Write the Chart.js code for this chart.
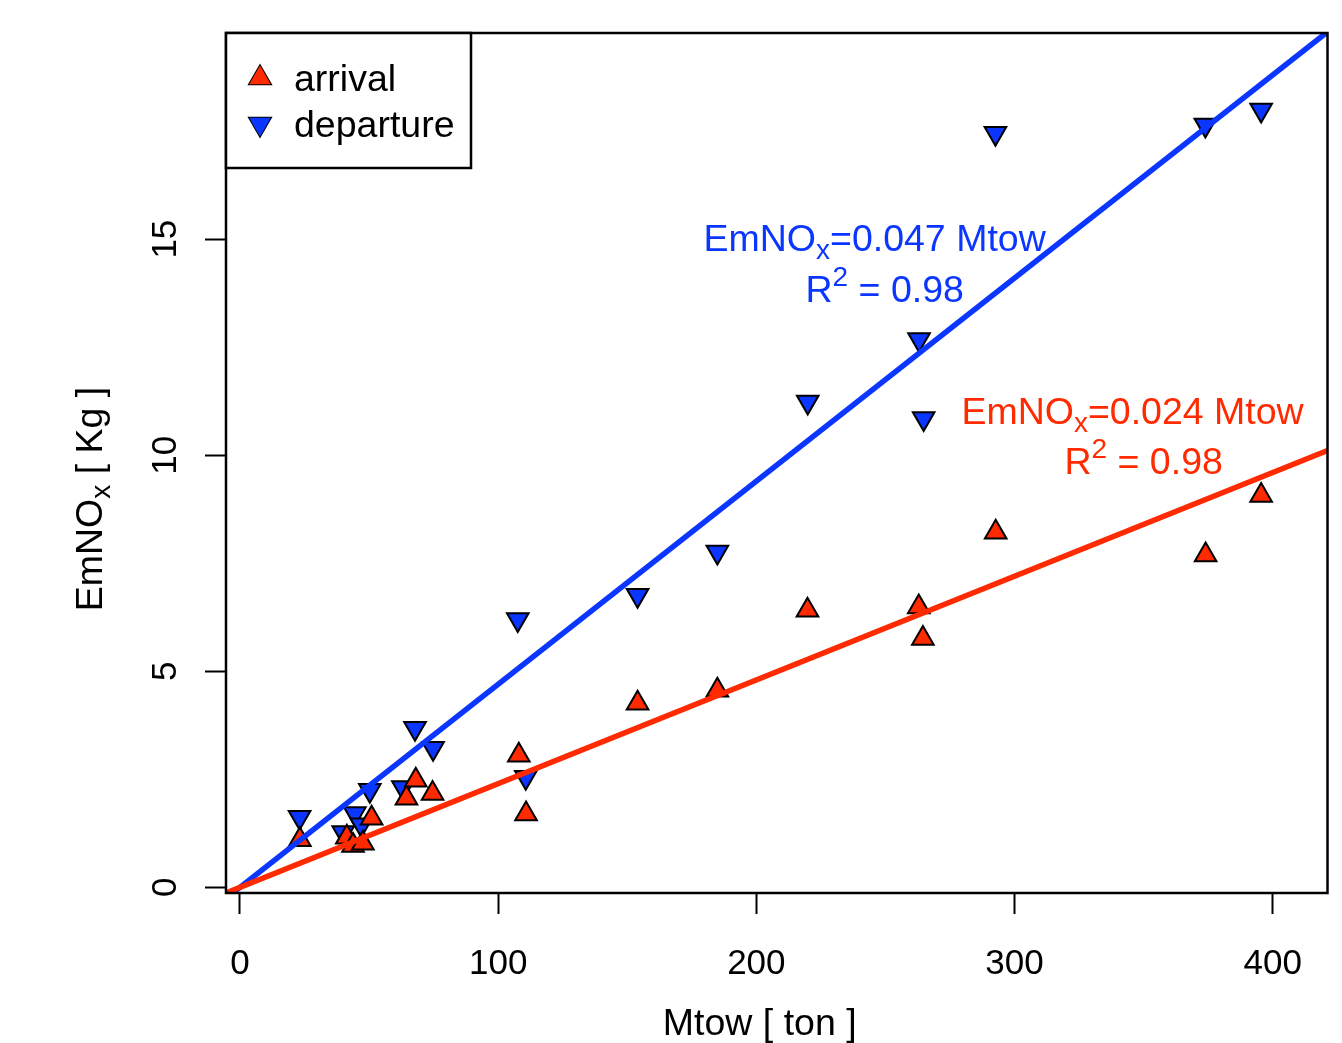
<!DOCTYPE html>
<html>
<head>
<meta charset="utf-8">
<title>EmNOx vs Mtow</title>
<script src="https://cdn.jsdelivr.net/npm/chart.js@4.4.1/dist/chart.umd.min.js"></script>
<style>
  html, body { margin: 0; padding: 0; background: #ffffff; }
  canvas { display: block; }
</style>
</head>
<body>
<canvas id="chart" width="1342" height="1043"></canvas>
<script>
// Maximum take-off weight [ton] and NOx emission [kg] per aircraft type
const mtowArrival = [23.2, 41.4, 43.8, 47.6, 51.0, 64.5, 68.1, 74.6, 108.0, 110.8, 154.0, 184.9, 219.8, 262.9, 264.5, 292.7, 374.0, 395.5];
const emArrival   = [1.10, 1.16, 0.97, 1.02, 1.60, 2.06, 2.48, 2.17, 3.06, 1.70, 4.26, 4.56, 6.41, 6.49, 5.76, 8.22, 7.69, 9.07];

const mtowDeparture = [23.1, 40.0, 44.5, 47.0, 50.3, 63.1, 67.8, 74.8, 107.6, 110.7, 154.0, 184.9, 219.9, 263.0, 264.8, 292.6, 373.9, 395.5];
const emDeparture   = [1.62, 1.27, 1.71, 1.45, 2.25, 2.31, 3.68, 3.22, 6.20, 2.55, 6.76, 7.76, 11.23, 12.68, 10.85, 17.45, 17.64, 17.99];

// Regression through the origin: EmNOx = slope * Mtow
const seriesNames = ['arrival', 'departure'];
const fitSlopes   = [0.024, 0.047];
const fitR2       = [0.98, 0.98];

// Axis ticks and limits
const xTicks = [0, 100, 200, 300, 400];
const yTicks = [0, 5, 10, 15];
const xLimits = [-5.4, 421.2];
const yLimits = [-0.13, 19.77];

const RED = '#ff2a00';
const BLUE = '#0a36ff';
const FONT = "'Liberation Sans', Arial, Helvetica, sans-serif";
const LAB = 37.5;   // label / legend / annotation text size
const SUB = 28;     // sub- and superscript size

function toPoints(xs, ys) { return xs.map((x, i) => ({ x: x, y: ys[i] })); }
function fitLine(slope) { return xLimits.map(x => ({ x: x, y: slope * x })); }

// Draw a run of text pieces (for sub/superscripts) centred on x
function drawRich(ctx, pieces, x, y) {
  let total = 0;
  pieces.forEach(p => { ctx.font = p.size + 'px ' + FONT; p.w = ctx.measureText(p.t).width; total += p.w; });
  let cx = x - total / 2;
  ctx.textAlign = 'left';
  ctx.textBaseline = 'alphabetic';
  pieces.forEach(p => {
    ctx.font = p.size + 'px ' + FONT;
    ctx.fillText(p.t, cx, y + (p.dy || 0));
    cx += p.w;
  });
}

function equationPieces(slope) {
  return [
    { t: 'EmNO', size: LAB },
    { t: 'x', size: SUB, dy: 8 },
    { t: '=' + slope.toFixed(3) + ' Mtow', size: LAB }
  ];
}
function r2Pieces(r2) {
  return [
    { t: 'R', size: LAB },
    { t: '2', size: SUB, dy: -16 },
    { t: ' = ' + r2.toFixed(2), size: LAB }
  ];
}

const pointStyles = [
  { pointStyle: 'triangle', rotation: 0, backgroundColor: RED },
  { pointStyle: 'triangle', rotation: 180, backgroundColor: BLUE }
];

const decorations = {
  id: 'decorations',
  afterDraw(chart) {
    const ctx = chart.ctx;
    const a = chart.chartArea;
    const xs = chart.scales.x, ys = chart.scales.y;
    ctx.save();

    // plot frame
    ctx.strokeStyle = '#000';
    ctx.lineWidth = 2.5;
    ctx.strokeRect(a.left, a.top, a.right - a.left, a.bottom - a.top);

    // y tick labels, rotated as in base graphics
    ctx.fillStyle = '#000';
    ctx.font = '35px ' + FONT;
    ys.ticks.forEach(t => {
      const py = ys.getPixelForValue(t.value);
      ctx.save();
      ctx.translate(a.left - 50, py);
      ctx.rotate(-Math.PI / 2);
      ctx.textAlign = 'center';
      ctx.textBaseline = 'alphabetic';
      ctx.fillText(String(t.value), 0, 0);
      ctx.restore();
    });

    // y axis title
    ctx.save();
    ctx.translate(a.left - 124, (a.top + a.bottom) / 2 + 36);
    ctx.rotate(-Math.PI / 2);
    drawRich(ctx, [
      { t: 'EmNO', size: LAB },
      { t: 'x', size: SUB, dy: 8 },
      { t: ' [ Kg ]', size: LAB }
    ], 0, 0);
    ctx.restore();

    // x axis title
    ctx.fillStyle = '#000';
    drawRich(ctx, [{ t: 'Mtow [ ton ]', size: LAB }], (a.left + a.right) / 2 - 17, 1035);

    // regression equations
    const eqAnchors = [
      { x: 345.7, y: 10.72, x2: 350.0, y2: 9.56, color: RED },
      { x: 245.8, y: 14.72, x2: 249.7, y2: 13.54, color: BLUE }
    ];
    eqAnchors.forEach((e, i) => {
      ctx.fillStyle = e.color;
      drawRich(ctx, equationPieces(fitSlopes[i]), xs.getPixelForValue(e.x), ys.getPixelForValue(e.y));
      drawRich(ctx, r2Pieces(fitR2[i]), xs.getPixelForValue(e.x2), ys.getPixelForValue(e.y2));
    });

    // legend
    const lx = a.left, ly = a.top, lw = 245, lh = 135;
    ctx.fillStyle = '#fff';
    ctx.fillRect(lx, ly, lw, lh);
    ctx.strokeStyle = '#000';
    ctx.lineWidth = 2.5;
    ctx.strokeRect(lx, ly, lw, lh);
    seriesNames.forEach((name, i) => {
      const cy = ly + 45 + i * 46;
      const st = pointStyles[i];
      ctx.fillStyle = st.backgroundColor;
      ctx.strokeStyle = '#000';
      ctx.lineWidth = 2;
      Chart.helpers.drawPoint(ctx, {
        pointStyle: st.pointStyle, rotation: st.rotation, radius: 12.5, borderWidth: 2
      }, lx + 34, cy);
      ctx.fill();
      ctx.fillStyle = '#000';
      ctx.font = LAB + 'px ' + FONT;
      ctx.textAlign = 'left';
      ctx.textBaseline = 'alphabetic';
      ctx.fillText(name, lx + 68, cy + 13);
    });

    ctx.restore();
  }
};

new Chart(document.getElementById('chart'), {
  type: 'scatter',
  data: {
    datasets: [
      {
        label: seriesNames[0] + ' fit',
        type: 'line',
        data: fitLine(fitSlopes[0]),
        borderColor: RED,
        borderWidth: 5.5,
        pointRadius: 0,
        fill: false,
        order: 0
      },
      {
        label: seriesNames[1] + ' fit',
        type: 'line',
        data: fitLine(fitSlopes[1]),
        borderColor: BLUE,
        borderWidth: 5.5,
        pointRadius: 0,
        fill: false,
        order: 0
      },
      {
        label: seriesNames[0],
        data: toPoints(mtowArrival, emArrival),
        pointStyle: 'triangle',
        rotation: 0,
        pointRadius: 12.5,
        backgroundColor: RED,
        borderColor: '#000',
        borderWidth: 2,
        order: 1
      },
      {
        label: seriesNames[1],
        data: toPoints(mtowDeparture, emDeparture),
        pointStyle: 'triangle',
        rotation: 180,
        pointRadius: 12.5,
        backgroundColor: BLUE,
        borderColor: '#000',
        borderWidth: 2,
        order: 2
      }
    ]
  },
  options: {
    responsive: false,
    animation: false,
    devicePixelRatio: 1,
    layout: { padding: { left: 0, top: 33, right: 14, bottom: 0 } },
    plugins: {
      legend: { display: false },
      tooltip: { enabled: false }
    },
    scales: {
      x: {
        type: 'linear',
        min: xLimits[0],
        max: xLimits[1],
        afterBuildTicks: s => { s.ticks = xTicks.map(v => ({ value: v })); },
        afterFit: s => { s.height = 150; },
        border: { display: false },
        grid: { drawOnChartArea: false, drawTicks: true, tickLength: 21, tickColor: '#000', tickWidth: 2 },
        ticks: {
          color: '#000',
          font: { family: FONT, size: 35 },
          padding: 29,
          maxRotation: 0,
          autoSkip: false
        }
      },
      y: {
        type: 'linear',
        min: yLimits[0],
        max: yLimits[1],
        afterBuildTicks: s => { s.ticks = yTicks.map(v => ({ value: v })); },
        afterFit: s => { s.width = 226; },
        border: { display: false },
        grid: { drawOnChartArea: false, drawTicks: true, tickLength: 21, tickColor: '#000', tickWidth: 2 },
        ticks: { display: false }
      }
    }
  },
  plugins: [decorations]
});
</script>
</body>
</html>
